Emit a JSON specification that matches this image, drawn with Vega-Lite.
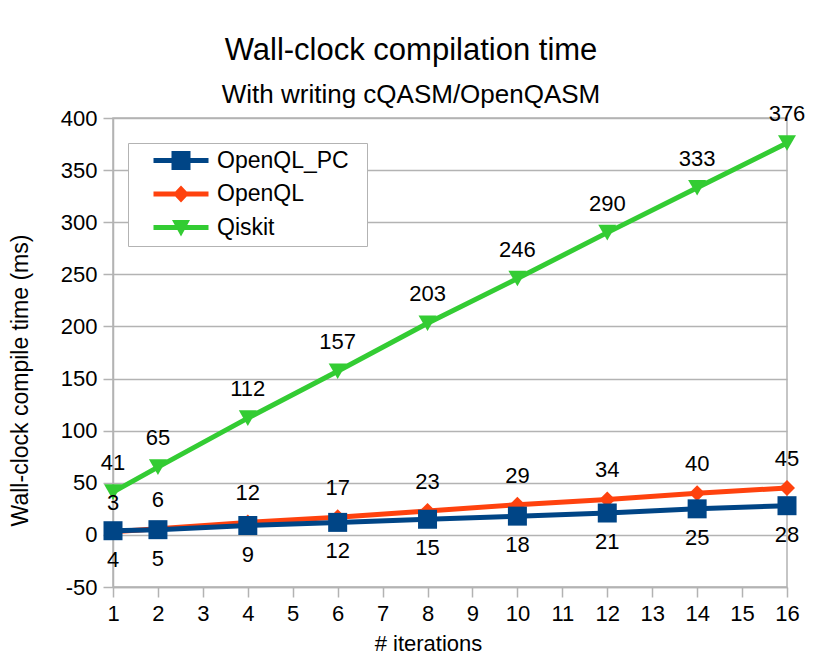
{
  "$schema": "https://vega.github.io/schema/vega-lite/v6.json",
  "width": 674,
  "height": 469,
  "autosize": "none",
  "padding": {"left": 113, "top": 118, "right": 43, "bottom": 76},
  "background": "white",
  "title": {
    "text": "Wall-clock compilation time",
    "subtitle": "With writing cQASM/OpenQASM",
    "fontSize": 31,
    "fontWeight": "normal",
    "subtitleFontSize": 26,
    "subtitlePadding": 15,
    "font": "Liberation Sans",
    "subtitleFont": "Liberation Sans",
    "color": "black",
    "subtitleColor": "black",
    "anchor": "middle",
    "frame": "group",
    "dx": -39,
    "offset": -6
  },
  "data": {
    "values": [
      {"iterations": 1, "series": "Qiskit", "ms": 41},
      {"iterations": 2, "series": "Qiskit", "ms": 65},
      {"iterations": 4, "series": "Qiskit", "ms": 112},
      {"iterations": 6, "series": "Qiskit", "ms": 157},
      {"iterations": 8, "series": "Qiskit", "ms": 203},
      {"iterations": 10, "series": "Qiskit", "ms": 246},
      {"iterations": 12, "series": "Qiskit", "ms": 290},
      {"iterations": 14, "series": "Qiskit", "ms": 333},
      {"iterations": 16, "series": "Qiskit", "ms": 376},
      {"iterations": 1, "series": "OpenQL", "ms": 3},
      {"iterations": 2, "series": "OpenQL", "ms": 6},
      {"iterations": 4, "series": "OpenQL", "ms": 12},
      {"iterations": 6, "series": "OpenQL", "ms": 17},
      {"iterations": 8, "series": "OpenQL", "ms": 23},
      {"iterations": 10, "series": "OpenQL", "ms": 29},
      {"iterations": 12, "series": "OpenQL", "ms": 34},
      {"iterations": 14, "series": "OpenQL", "ms": 40},
      {"iterations": 16, "series": "OpenQL", "ms": 45},
      {"iterations": 1, "series": "OpenQL_PC", "ms": 4},
      {"iterations": 2, "series": "OpenQL_PC", "ms": 5},
      {"iterations": 4, "series": "OpenQL_PC", "ms": 9},
      {"iterations": 6, "series": "OpenQL_PC", "ms": 12},
      {"iterations": 8, "series": "OpenQL_PC", "ms": 15},
      {"iterations": 10, "series": "OpenQL_PC", "ms": 18},
      {"iterations": 12, "series": "OpenQL_PC", "ms": 21},
      {"iterations": 14, "series": "OpenQL_PC", "ms": 25},
      {"iterations": 16, "series": "OpenQL_PC", "ms": 28}
    ]
  },
  "encoding": {
    "x": {
      "field": "iterations",
      "type": "quantitative",
      "scale": {"domain": [1, 16], "nice": false, "zero": false},
      "axis": {
        "title": "# iterations",
        "values": [1, 2, 3, 4, 5, 6, 7, 8, 9, 10, 11, 12, 13, 14, 15, 16],
        "grid": false,
        "titleX": 315,
        "titleY": 56,
        "titleAlign": "center",
        "titleBaseline": "middle",
        "titleFontSize": 22
      }
    },
    "y": {
      "field": "ms",
      "type": "quantitative",
      "scale": {"domain": [-50, 400], "nice": false, "zero": false},
      "axis": {
        "title": "Wall-clock compile time (ms)",
        "values": [-50, 0, 50, 100, 150, 200, 250, 300, 350, 400],
        "labelExpr": "datum.value < 0 ? '-' + abs(datum.value) : datum.label",
        "grid": true,
        "titleX": -93,
        "titleY": 262,
        "titleAngle": -90,
        "titleAlign": "center",
        "titleBaseline": "middle",
        "titleFontSize": 23
      }
    }
  },
  "layer": [
    {
      "transform": [{"filter": "datum.series === 'Qiskit'"}],
      "mark": {"type": "line", "strokeWidth": 5, "color": "#33cc33"}
    },
    {
      "transform": [{"filter": "datum.series === 'OpenQL'"}],
      "mark": {"type": "line", "strokeWidth": 5, "color": "#ff420e"}
    },
    {
      "transform": [{"filter": "datum.series === 'OpenQL_PC'"}],
      "mark": {"type": "line", "strokeWidth": 5, "color": "#004586"}
    },
    {
      "transform": [{"filter": "datum.series === 'Qiskit'"}],
      "mark": {"type": "point", "filled": true, "opacity": 1, "shape": "triangle-down", "size": 324, "color": "#33cc33"}
    },
    {
      "transform": [{"filter": "datum.series === 'OpenQL'"}],
      "mark": {"type": "point", "filled": true, "opacity": 1, "shape": "diamond", "size": 256, "color": "#ff420e"}
    },
    {
      "transform": [{"filter": "datum.series === 'OpenQL_PC'"}],
      "mark": {"type": "point", "filled": true, "opacity": 1, "shape": "square", "size": 361, "color": "#004586"}
    },
    {
      "transform": [{"filter": "datum.series === 'OpenQL_PC'"}],
      "mark": {"type": "text", "dy": 29, "baseline": "middle", "font": "Liberation Sans", "fontSize": 22, "color": "black"},
      "encoding": {
        "text": {"field": "ms", "type": "quantitative"}
      }
    },
    {
      "transform": [{"filter": "datum.series !== 'OpenQL_PC'"}],
      "mark": {"type": "text", "dy": -29, "baseline": "middle", "font": "Liberation Sans", "fontSize": 22, "color": "black"},
      "encoding": {
        "text": {"field": "ms", "type": "quantitative"}
      }
    },
    {
      "transform": [{"filter": "false"}],
      "mark": {"type": "point", "filled": true, "opacity": 1},
      "encoding": {
        "color": {
          "field": "series",
          "type": "nominal",
          "scale": {
            "domain": ["OpenQL_PC", "OpenQL", "Qiskit"],
            "range": ["#004586", "#ff420e", "#33cc33"]
          },
          "legend": {
            "title": "\u00a0",
            "titleOrient": "right",
            "titlePadding": 12,
            "titleFontSize": 23,
            "titleFont": "Liberation Sans",
            "orient": "none",
            "legendX": 15,
            "legendY": 25,
            "fillColor": "white",
            "strokeColor": "#b3b3b3",
            "padding": 6,
            "labelFont": "Liberation Sans",
            "labelFontSize": 23,
            "labelColor": "black",
            "symbolOffset": 35.5,
            "labelOffset": 24.5,
            "rowPadding": 9.5,
            "symbolSize": 400,
            "symbolStrokeWidth": 0
          }
        },
        "shape": {
          "field": "series",
          "type": "nominal",
          "scale": {
            "domain": ["OpenQL_PC", "OpenQL", "Qiskit"],
            "range": [
              "M-2.75,-0.25H2.75V0.25H-2.75Z M-0.95,-0.95H0.95V0.95H-0.95Z",
              "M-2.75,-0.25H2.75V0.25H-2.75Z M0,-0.85L0.8,0L0,0.85L-0.8,0Z",
              "M-2.75,-0.25H2.75V0.25H-2.75Z M-0.9,-0.75H0.9L0,0.9Z"
            ]
          },
          "legend": null
        }
      }
    }
  ],
  "config": {
    "view": {"stroke": "#b3b3b3", "strokeWidth": 1.5},
    "axis": {
      "labelFont": "Liberation Sans",
      "labelFontSize": 22,
      "labelColor": "black",
      "titleFont": "Liberation Sans",
      "titleFontSize": 21,
      "titleFontWeight": "normal",
      "titleColor": "black",
      "domainColor": "#b3b3b3",
      "domainWidth": 1.5,
      "tickColor": "#b3b3b3",
      "tickWidth": 1.5,
      "tickSize": 10,
      "gridColor": "#b3b3b3",
      "gridWidth": 1.5,
      "labelPadding": 6,
      "labelFlush": false,
      "labelOverlap": false
    }
  }
}
